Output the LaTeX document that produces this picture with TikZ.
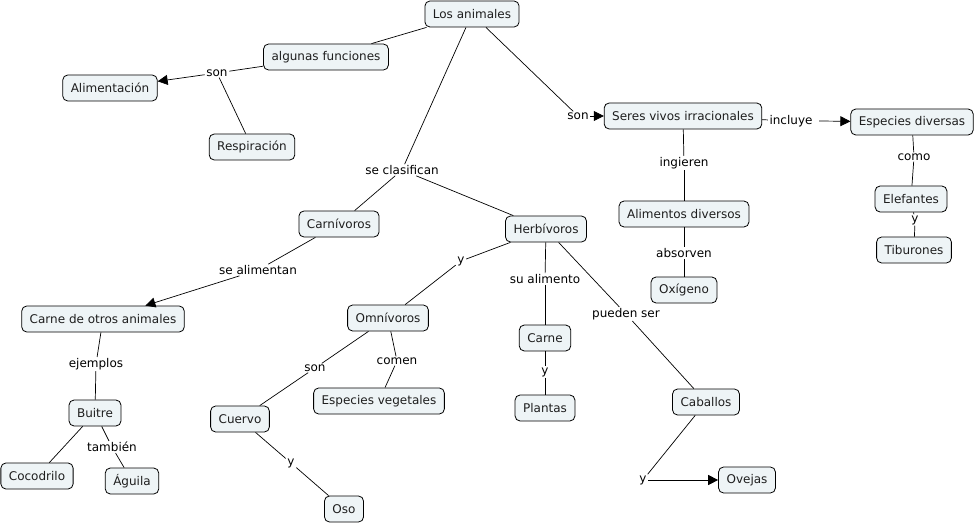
\documentclass[tikz,border=0pt]{standalone}
\usepackage{fontspec}
\setmainfont{DejaVu Sans}
\usetikzlibrary{arrows.meta}
\definecolor{cfill}{RGB}{238,244,246}
\definecolor{ctext}{RGB}{30,30,30}
\tikzset{
  concept/.style={draw=black, line width=0.8pt, fill=cfill, rounded corners=5pt, inner xsep=8pt, inner ysep=0pt, minimum height=26pt, text=ctext, font=\fontsize{12}{14}\selectfont},
  lbl/.style={inner xsep=1.5pt, inner ysep=1pt, text=black, font=\fontsize{12}{14}\selectfont},
  conn/.style={line width=0.7pt, draw=black},
  arr/.style={conn, -{Triangle[length=10pt,width=10pt]}}
}
\begin{document}
\begin{tikzpicture}[x=1pt,y=1pt]
\useasboundingbox (0,0) rectangle (975,-524);
\fill[white] (0,0) rectangle (975,-524);
% concepts
\node[concept] (animales) at (472,-14) {Los animales};
\node[concept] (funciones) at (326,-57) {algunas funciones};
\node[concept] (alim) at (110,-88) {Alimentación};
\node[concept] (resp) at (252,-147) {Respiración};
\node[concept] (seres) at (683,-116) {Seres vivos irracionales};
\node[concept] (especies) at (912,-122) {Especies diversas};
\node[concept] (elef) at (911,-199) {Elefantes};
\node[concept] (tib) at (914,-250) {Tiburones};
\node[concept] (alimdiv) at (684,-214) {Alimentos diversos};
\node[concept] (oxi) at (684,-290) {Oxígeno};
\node[concept] (carniv) at (339,-224) {Carnívoros};
\node[concept] (herb) at (546,-229) {Herbívoros};
\node[concept] (carneotros) at (103,-319) {Carne de otros animales};
\node[concept] (omni) at (388,-318) {Omnívoros};
\node[concept] (carne) at (545,-338) {Carne};
\node[concept] (plantas) at (545,-408) {Plantas};
\node[concept] (caballos) at (706,-402) {Caballos};
\node[concept] (ovejas) at (747,-480) {Ovejas};
\node[concept] (vege) at (379,-401) {Especies vegetales};
\node[concept] (cuervo) at (240,-419) {Cuervo};
\node[concept] (oso) at (344,-509) {Oso};
\node[concept] (buitre) at (95,-413) {Buitre};
\node[concept] (coco) at (37,-476) {Cocodrilo};
\node[concept] (aguila) at (132,-481) {Águila};
% linking phrases
\node[lbl] (l_son1) at (217,-73) {son};
\node[lbl] (l_clas) at (402,-170) {se clasifican};
\node[lbl] (l_son2) at (578,-116) {son};
\node[lbl] (l_incl) at (791,-121) {incluye};
\node[lbl] (l_ing) at (684,-163) {ingieren};
\node[lbl] (l_como) at (914,-157) {como};
\node[lbl] (l_y1) at (915,-220) {y};
\node[lbl] (l_abs) at (684,-253) {absorven};
\node[lbl] (l_alim) at (258,-270) {se alimentan};
\node[lbl] (l_ej) at (96,-364) {ejemplos};
\node[lbl] (l_tamb) at (112,-447) {también};
\node[lbl] (l_y2) at (461,-261) {y};
\node[lbl] (l_sual) at (545,-279) {su alimento};
\node[lbl] (l_pued) at (626,-314) {pueden ser};
\node[lbl] (l_y3) at (545,-372) {y};
\node[lbl] (l_son3) at (315,-368) {son};
\node[lbl] (l_comen) at (397,-361) {comen};
\node[lbl] (l_y4) at (291,-463) {y};
\node[lbl] (l_y5) at (643,-480) {y};
% connectors
\draw[conn] (animales) -- (funciones);
\draw[conn] (funciones) -- (l_son1);
\draw[arr] (l_son1) -- (alim);
\draw[conn] (l_son1) -- (resp);
\draw[conn] (animales) -- (l_clas);
\draw[conn] (l_clas) -- (carniv);
\draw[conn] (l_clas) -- (herb);
\draw[conn] (animales) -- (l_son2);
\draw[arr] (l_son2) -- (seres);
\draw[conn] (seres) -- (l_incl);
\draw[arr] ([xshift=5pt]l_incl.east) -- (especies);
\draw[conn] (seres) -- (l_ing);
\draw[conn] (l_ing) -- (alimdiv);
\draw[conn] (alimdiv) -- (l_abs);
\draw[conn] (l_abs) -- (oxi);
\draw[conn] (especies) -- (l_como);
\draw[conn] (l_como) -- (elef);
\draw[conn] (elef) -- (l_y1);
\draw[conn] (l_y1) -- (tib);
\draw[conn] (carniv) -- (l_alim);
\draw[arr] (l_alim) -- (carneotros);
\draw[conn] (carneotros) -- (l_ej);
\draw[conn] (l_ej) -- (buitre);
\draw[conn] (buitre) -- (coco);
\draw[conn] (buitre) -- (l_tamb);
\draw[conn] (l_tamb) -- (aguila);
\draw[conn] (herb) -- (l_y2);
\draw[conn] (l_y2) -- (omni);
\draw[conn] (herb) -- (l_sual);
\draw[conn] (l_sual) -- (carne);
\draw[conn] (carne) -- (l_y3);
\draw[conn] (l_y3) -- (plantas);
\draw[conn] (herb) -- (l_pued);
\draw[conn] (l_pued) -- (caballos);
\draw[conn] (caballos) -- (l_y5);
\draw[arr] (l_y5) -- (ovejas);
\draw[conn] (omni) -- (l_son3);
\draw[conn] (l_son3) -- (cuervo);
\draw[conn] (omni) -- (l_comen);
\draw[conn] (l_comen) -- (vege);
\draw[conn] (cuervo) -- (l_y4);
\draw[conn] (l_y4) -- (oso);
\end{tikzpicture}
\end{document}
